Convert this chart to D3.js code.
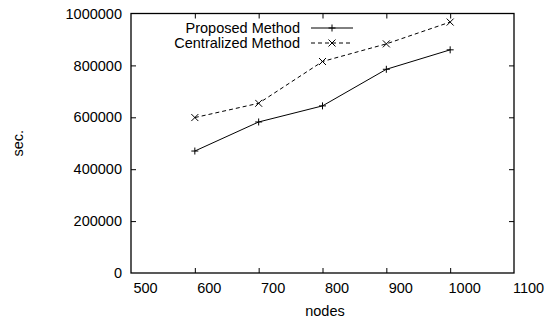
<!DOCTYPE html>
<html>
<head>
<meta charset="utf-8">
<script src="https://cdn.jsdelivr.net/npm/d3@7"></script>
<style>
  body { margin: 0; background: #fff; }
  svg text { font-family: "Liberation Sans", Arial, sans-serif; font-size: 14.5px; fill: #000; }
</style>
</head>
<body>
<div id="chart"></div>
<script>
const nodes = [600, 700, 800, 900, 1000];
const proposed = [470000, 582000, 644000, 785000, 860000];
const centralized = [599000, 654000, 815000, 883000, 967000];
const xTicks = [500, 600, 700, 800, 900, 1000, 1100];
const yTicks = [0, 200000, 400000, 600000, 800000, 1000000];

const width = 553, height = 320;
const margin = { left: 131, right: 39, top: 13.5, bottom: 47 };

const svg = d3.select('#chart').append('svg')
  .attr('width', width)
  .attr('height', height);

const x = d3.scaleLinear().domain([500, 1100]).range([margin.left, width - margin.right]);
const y = d3.scaleLinear().domain([0, 1000000]).range([height - margin.bottom, margin.top]);

const tickLen = 5;

// inward ticks on all four sides, labels only left and bottom
svg.append('g')
  .attr('transform', `translate(0,${y(0)})`)
  .call(d3.axisBottom(x).tickValues(xTicks).tickSizeInner(-tickLen).tickSizeOuter(0).tickPadding(10).tickFormat(d3.format('d')))
  .call(g => g.select('.domain').remove())
  .call(g => g.selectAll('.tick text').attr('x', 14))
  .call(g => g.selectAll('.tick line').filter(d => d === 500 || d === 1100).remove());

svg.append('g')
  .attr('transform', `translate(0,${y(1000000)})`)
  .call(d3.axisTop(x).tickValues(xTicks).tickSizeInner(-tickLen).tickSizeOuter(0).tickFormat(''))
  .call(g => g.select('.domain').remove())
  .call(g => g.selectAll('.tick line').filter(d => d === 500 || d === 1100).remove());

svg.append('g')
  .attr('transform', `translate(${x(500)},0)`)
  .call(d3.axisLeft(y).tickValues(yTicks).tickSizeInner(-tickLen).tickSizeOuter(0).tickPadding(9).tickFormat(d3.format('d')))
  .call(g => g.select('.domain').remove())
  .call(g => g.selectAll('.tick line').filter(d => d === 0 || d === 1000000).remove());

svg.append('g')
  .attr('transform', `translate(${x(1100)},0)`)
  .call(d3.axisRight(y).tickValues(yTicks).tickSizeInner(-tickLen).tickSizeOuter(0).tickFormat(''))
  .call(g => g.select('.domain').remove())
  .call(g => g.selectAll('.tick line').filter(d => d === 0 || d === 1000000).remove());

// frame
svg.append('rect')
  .attr('x', x(500)).attr('y', y(1000000))
  .attr('width', x(1100) - x(500)).attr('height', y(0) - y(1000000))
  .attr('fill', 'none').attr('stroke', '#000').attr('stroke-width', 1.3);

// axis labels
svg.append('text')
  .attr('x', 325).attr('y', 316)
  .attr('text-anchor', 'middle')
  .text('nodes');

svg.append('text')
  .attr('transform', `translate(22.5,${(y(0) + y(1000000)) / 2}) rotate(-90)`)
  .attr('text-anchor', 'middle')
  .text('sec.');

const line = d3.line().x((d, i) => x(nodes[i])).y(d => y(d));
const m = 3.5;

function plus(g, cx, cy) {
  g.append('path').attr('d', `M${cx - m},${cy}H${cx + m}M${cx},${cy - m}V${cy + m}`)
    .attr('stroke', '#000').attr('stroke-width', 1);
}
function cross(g, cx, cy) {
  g.append('path').attr('d', `M${cx - m},${cy - m}L${cx + m},${cy + m}M${cx - m},${cy + m}L${cx + m},${cy - m}`)
    .attr('stroke', '#000').attr('stroke-width', 1);
}

const series = [
  { name: 'Proposed Method', values: proposed, dash: null, mark: plus },
  { name: 'Centralized Method', values: centralized, dash: '4,3', mark: cross }
];

series.forEach((s, k) => {
  const g = svg.append('g');
  g.append('path')
    .attr('d', line(s.values))
    .attr('fill', 'none')
    .attr('stroke', '#000')
    .attr('stroke-width', 1)
    .attr('stroke-dasharray', s.dash);
  s.values.forEach((v, i) => s.mark(g, x(nodes[i]), y(v)));

  // legend
  const ly = 28 + k * 15;
  svg.append('text')
    .attr('x', 300).attr('y', ly)
    .attr('dy', '0.35em')
    .attr('text-anchor', 'end')
    .text(s.name);
  svg.append('line')
    .attr('x1', 311).attr('x2', 353)
    .attr('y1', ly).attr('y2', ly)
    .attr('stroke', '#000').attr('stroke-width', 1)
    .attr('stroke-dasharray', s.dash);
  s.mark(svg, 332, ly);
});
</script>
</body>
</html>
